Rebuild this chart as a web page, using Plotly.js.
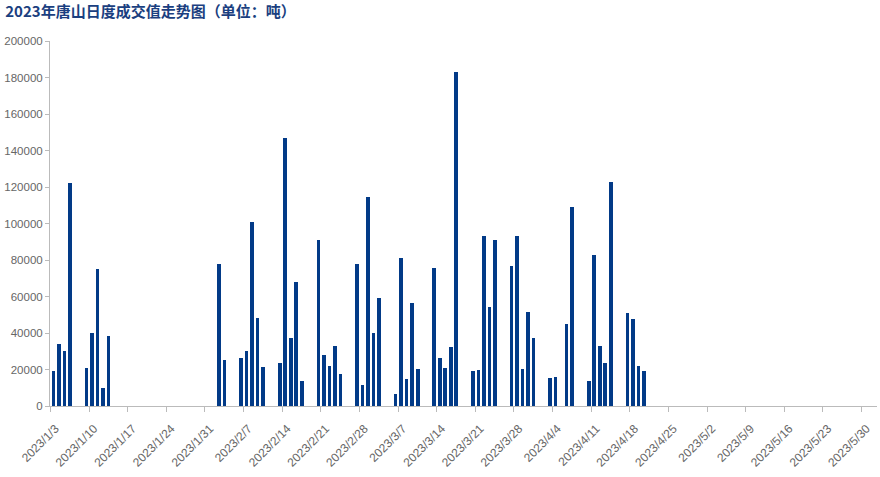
<!DOCTYPE html>
<html>
<head>
<meta charset="utf-8">
<script src="https://cdn.plot.ly/plotly-3.0.1.min.js"></script>
<style>html,body{margin:0;padding:0;background:#fff;}#chart{width:880px;height:477px;}</style>
</head>
<body>
<div id="chart"></div>
<script>
const chartTitle = '2023年唐山日度成交值走势图（单位：吨）';
const dates = [
  '2023-01-03','2023-01-04','2023-01-05','2023-01-06',
  '2023-01-09','2023-01-10','2023-01-11','2023-01-12','2023-01-13',
  '2023-02-02','2023-02-03',
  '2023-02-06','2023-02-07','2023-02-08','2023-02-09','2023-02-10',
  '2023-02-13','2023-02-14','2023-02-15','2023-02-16','2023-02-17',
  '2023-02-20','2023-02-21','2023-02-22','2023-02-23','2023-02-24',
  '2023-02-27','2023-02-28','2023-03-01','2023-03-02','2023-03-03',
  '2023-03-06','2023-03-07','2023-03-08','2023-03-09','2023-03-10',
  '2023-03-13','2023-03-14','2023-03-15','2023-03-16','2023-03-17',
  '2023-03-20','2023-03-21','2023-03-22','2023-03-23','2023-03-24',
  '2023-03-27','2023-03-28','2023-03-29','2023-03-30','2023-03-31',
  '2023-04-03','2023-04-04','2023-04-06','2023-04-07',
  '2023-04-10','2023-04-11','2023-04-12','2023-04-13','2023-04-14',
  '2023-04-17','2023-04-18','2023-04-19','2023-04-20'
];
const volumes = [
  19000, 34000, 30000, 122000,
  21000, 40000, 75000, 10000, 38500,
  78000, 25000,
  26500, 30200, 101000, 48200, 21500,
  23500, 147000, 37200, 68000, 13800,
  91200, 27800, 21800, 33000, 17400,
  78000, 11500, 114700, 40000, 59300,
  6700, 81100, 14900, 56600, 20300,
  75800, 26400, 20700, 32600, 182800,
  19200, 19600, 93400, 54200, 90700,
  76900, 92900, 20100, 51500, 37200,
  15200, 15900, 45000, 108800,
  13900, 82800, 33000, 23600, 123000,
  50900, 47800, 22000, 19200
];
const yTicks = [0,20000,40000,60000,80000,100000,120000,140000,160000,180000,200000];

const DAY = 86400000;
const trace = {
  type: 'bar',
  x: dates,
  y: volumes,
  width: 0.66 * DAY,
  offset: 0.22 * DAY,
  marker: {color: '#023a87', line: {width: 0}},
  hoverinfo: 'x+y'
};
const layout = {
  width: 880, height: 477,
  margin: {l: 50, r: 3, t: 41, b: 71},
  paper_bgcolor: '#ffffff',
  plot_bgcolor: '#ffffff',
  showlegend: false,
  title: {
    text: '<b>' + chartTitle + '</b>',
    x: 0.006, xanchor: 'left', y: 0.975, yanchor: 'middle',
    font: {family: '"Noto Sans CJK SC", sans-serif', size: 15, color: '#1b3f80'}
  },
  xaxis: {
    type: 'date',
    range: ['2023-01-02 22:00', '2023-06-01 19:00'],
    tick0: '2023-01-03', dtick: 7 * DAY,
    tickformat: '%Y/%-m/%-d',
    tickangle: -45,
    ticks: 'outside', ticklen: 5, tickcolor: '#bbbbbb',
    ticklabelshift: 5, ticklabelstandoff: 5,
    showline: true, linecolor: '#bbbbbb', linewidth: 1,
    showgrid: false, zeroline: false,
    tickfont: {family: 'Arial, "Liberation Sans", sans-serif', size: 12, color: '#666666'}
  },
  yaxis: {
    range: [0, 200000],
    tickvals: yTicks,
    tickformat: 'd',
    ticks: 'outside', ticklen: 4, tickcolor: '#bbbbbb',
    showline: true, linecolor: '#bbbbbb', linewidth: 1,
    showgrid: false, zeroline: false,
    tickfont: {family: 'Arial, "Liberation Sans", sans-serif', size: 11.5, color: '#666666'}
  },
  bargap: 0
};
Plotly.newPlot('chart', [trace], layout, {displayModeBar: false, staticPlot: true});
</script>
</body>
</html>
